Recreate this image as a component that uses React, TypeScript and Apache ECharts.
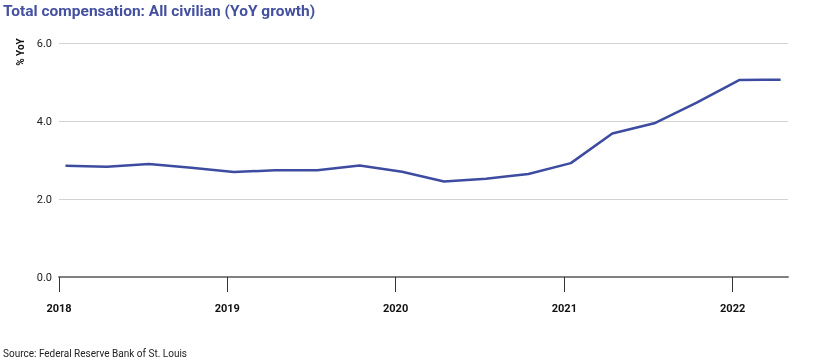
import React, { useEffect, useRef } from "react";
import * as echarts from "echarts";

const dates = [
  "2018-01-15", "2018-04-15", "2018-07-15", "2018-10-15",
  "2019-01-15", "2019-04-15", "2019-07-15", "2019-10-15",
  "2020-01-15", "2020-04-15", "2020-07-15", "2020-10-15",
  "2021-01-15", "2021-04-15", "2021-07-15", "2021-10-15",
  "2022-01-15", "2022-04-15",
];
const values = [
  2.85, 2.83, 2.9, 2.8,
  2.69, 2.74, 2.74, 2.86,
  2.7, 2.45, 2.52, 2.64,
  2.92, 3.68, 3.94, 4.47,
  5.05, 5.06,
];
const yearTicks = ["2018-01-01", "2019-01-01", "2020-01-01", "2021-01-01", "2022-01-01"];
const yTicks = [0, 2, 4, 6];

const titleText = "Total compensation: All civilian (YoY growth)";
const yName = "% YoY";
const sourceText = "Source: Federal Reserve Bank of St. Louis";

const ts = (d: string) => Date.UTC(+d.slice(0, 4), +d.slice(5, 7) - 1, +d.slice(8, 10));

export default function App() {
  const ref = useRef<HTMLDivElement>(null);
  useEffect(() => {
    if (!ref.current) return;
    const chart = echarts.init(ref.current, null, { renderer: "svg" });
    const font = "Roboto, 'Noto Sans', sans-serif";
    const tickVals = yearTicks.map(ts);
    chart.setOption({
      animation: false,
      textStyle: { fontFamily: font },
      graphic: [
        {
          type: "text",
          x: 3,
          y: 11,
          style: {
            text: titleText,
            fontSize: 15.5,
            fontWeight: "bold",
            fill: "#4450a0",
            fontFamily: font,
            align: "left",
            verticalAlign: "middle",
          },
        },
        {
          type: "text",
          x: 20,
          y: 52,
          rotation: Math.PI / 2,
          style: {
            text: yName,
            fontSize: 10,
            fontWeight: "bold",
            fill: "#111",
            fontFamily: font,
            align: "center",
            verticalAlign: "middle",
          },
        },
        {
          type: "text",
          x: 3,
          y: 353,
          style: {
            text: sourceText,
            fontSize: 10,
            fill: "#222",
            fontFamily: font,
            align: "left",
            verticalAlign: "middle",
          },
        },
      ],
      grid: { left: 59, right: 42, top: 43, bottom: 84, containLabel: false },
      xAxis: {
        type: "value",
        min: ts("2018-01-01"),
        max: ts("2022-05-01"),
        axisLine: { show: true, lineStyle: { color: "#808080", width: 2 } },
        axisTick: {
          show: true,
          length: 15,
          lineStyle: { color: "#333", width: 1 },
          customValues: tickVals,
        },
        axisLabel: {
          margin: 26,
          fontSize: 11,
          fontWeight: "bold",
          color: "#111",
          fontFamily: font,
          customValues: tickVals,
          formatter: (v: number) => String(new Date(v).getUTCFullYear()),
        },
        splitLine: { show: false },
      },
      yAxis: {
        type: "value",
        min: yTicks[0],
        max: yTicks[yTicks.length - 1],
        interval: 2,
        axisLine: { show: false },
        axisTick: { show: false },
        axisLabel: {
          margin: 7,
          fontSize: 11,
          color: "#222",
          fontFamily: font,
          formatter: (v: number) => v.toFixed(1),
        },
        splitLine: { lineStyle: { color: "#d2d2d2", width: 1 } },
      },
      series: [
        {
          type: "line",
          data: dates.map((d, i) => [ts(d), values[i]]),
          showSymbol: false,
          symbol: "none",
          lineStyle: { color: "#3d4ca0", width: 2.5 },
        },
      ],
    });
    return () => chart.dispose();
  }, []);
  return (
    <div
      ref={ref}
      style={{ position: "fixed", left: 0, top: 0, width: 830, height: 361 }}
    />
  );
}
